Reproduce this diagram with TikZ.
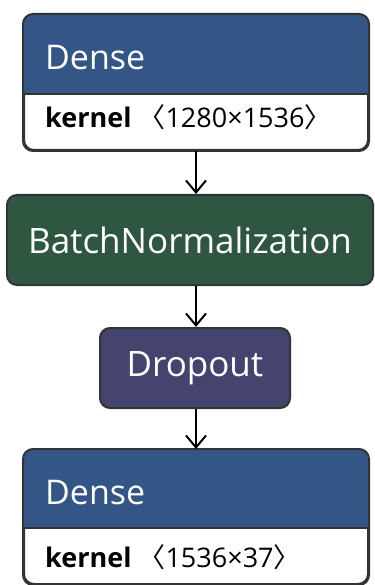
\documentclass[tikz,border=0pt]{standalone}
\usepackage{fontspec}
\setmainfont{Open Sans}
\newfontfamily\cjk{Noto Sans CJK SC}
\usetikzlibrary{arrows.meta}
\definecolor{denseblue}{HTML}{345686}
\definecolor{bngreen}{HTML}{2F5641}
\definecolor{dropviolet}{HTML}{45446E}
\definecolor{edgegray}{HTML}{333333}

\begin{document}
\begin{tikzpicture}[x=1pt,y=-1pt,
  layer/.style={draw=edgegray,line width=2pt,rounded corners=10pt,inner sep=0pt},
  headtxt/.style={text=white,font=\fontsize{34}{40}\selectfont,anchor=base west,inner sep=0pt},
  kerntxt/.style={text=black,font=\fontsize{27}{32}\selectfont,anchor=base west,inner sep=0pt},
  flow/.style={draw=black,line width=2pt,-{Straight Barb[length=12pt,width=20pt,line width=2pt]}}]
  \useasboundingbox (0,0) rectangle (374,585);

  % first dense layer
  \node[layer,fill=white,minimum width=344pt,minimum height=135pt] (dense1) at (196,82.5) {};
  \coordinate (cut1) at (0,94);
  \begin{scope}
    \clip[rounded corners=10pt] (dense1.north west) rectangle (dense1.south east);
    \fill[denseblue] (dense1.north west) rectangle (dense1.east |- cut1);
  \end{scope}
  \draw[edgegray,line width=1.5pt] (dense1.west |- cut1) -- (dense1.east |- cut1);
  \draw[edgegray,line width=2pt,rounded corners=10pt] (dense1.north west) rectangle (dense1.south east);
  \node[headtxt] (dense1name) at (45,70) {Dense};
  \node[kerntxt] (dense1kern) at (45,128) {\textbf{kernel}\kern7pt{\cjk 〈}1280×1536{\cjk 〉}};

  % batch normalization
  \node[layer,fill=bngreen,minimum width=366pt,minimum height=90pt,text=white,
        font=\fontsize{35}{40}\selectfont] (bnorm) at (190,240) {BatchNormalization};

  % dropout
  \node[layer,fill=dropviolet,minimum width=190pt,minimum height=80pt,text=white,
        font=\fontsize{35}{40}\selectfont] (drop) at (195,368) {Dropout};

  % second dense layer
  \node[layer,fill=white,minimum width=344pt,minimum height=134pt] (dense2) at (196,517) {};
  \coordinate (cut2) at (0,528);
  \begin{scope}
    \clip[rounded corners=10pt] (dense2.north west) rectangle (dense2.south east);
    \fill[denseblue] (dense2.north west) rectangle (dense2.east |- cut2);
  \end{scope}
  \draw[edgegray,line width=1.5pt] (dense2.west |- cut2) -- (dense2.east |- cut2);
  \draw[edgegray,line width=2pt,rounded corners=10pt] (dense2.north west) rectangle (dense2.south east);
  \node[headtxt] (dense2name) at (45,504) {Dense};
  \node[kerntxt] (dense2kern) at (45,567) {\textbf{kernel}\kern7pt{\cjk 〈}1536×37{\cjk 〉}};

  % connectors
  \draw[flow] (dense1.south) -- (dense1.south |- bnorm.north);
  \draw[flow] (dense1.south |- bnorm.south) -- (dense1.south |- drop.north);
  \draw[flow] (dense1.south |- drop.south) -- (dense2.north);
\end{tikzpicture}
\end{document}
